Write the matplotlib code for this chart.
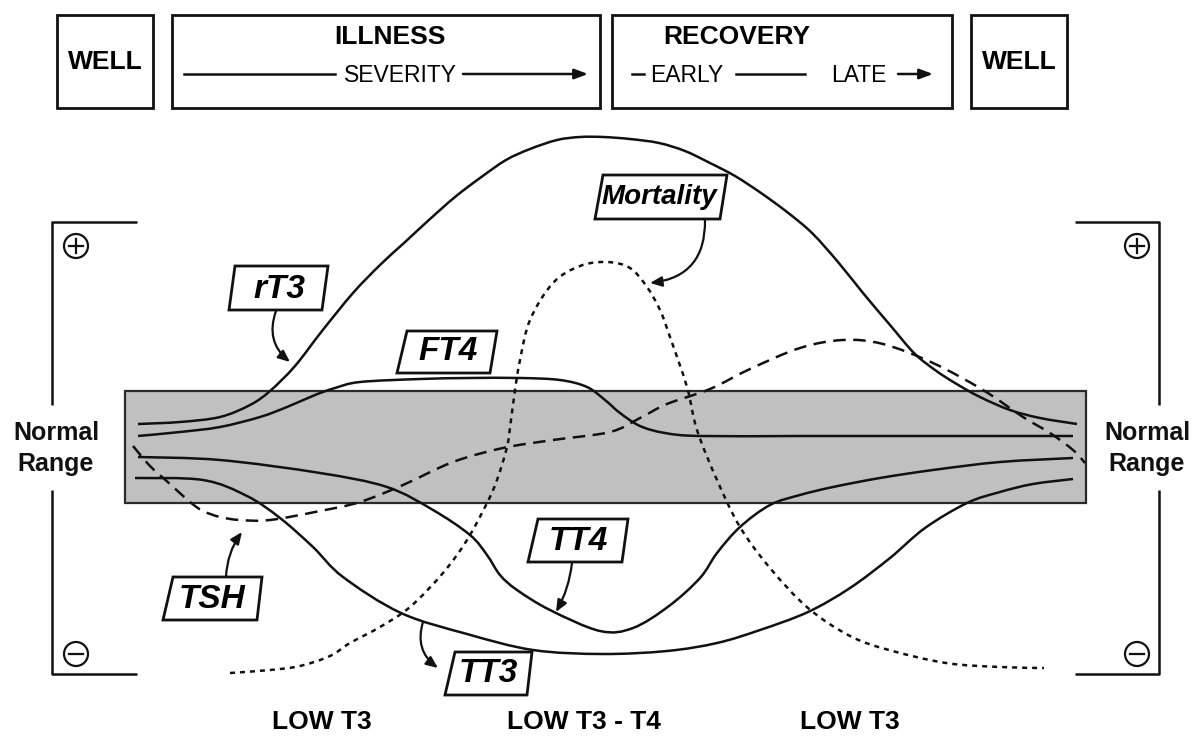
import numpy as np
import matplotlib.pyplot as plt
from matplotlib.path import Path
from matplotlib.patches import PathPatch, Rectangle, Polygon, Circle, FancyArrowPatch

# curve traces (x, y in drawing units, y grows downward)
rt3_x = [138, 180, 220, 250, 270, 295, 322, 353, 380, 404, 430, 455, 480, 506, 530, 557, 580, 603,
         630, 659, 685, 710, 735, 761, 787, 812, 838, 863, 890, 914, 935, 955, 980, 1010, 1040, 1077]
rt3_y = [424, 422, 417, 405, 391, 366, 331, 293, 265, 243, 219, 197, 178, 160, 149, 140, 137, 137,
         139, 143, 151, 163, 176, 193, 212, 233, 262, 293, 325, 353, 370, 383, 397, 410, 418, 424]

ft4_x = [138, 180, 220, 260, 287, 315, 335, 360, 420, 470, 520, 560, 587, 605, 620, 640, 665, 700,
         800, 900, 1000, 1073]
ft4_y = [436, 432, 427, 417, 407, 395, 388, 382, 379, 378, 378, 380, 387, 400, 413, 426, 433, 436,
         436, 436, 436, 436]

tt4_x = [138, 220, 320, 387, 433, 470, 487, 500, 517, 550, 600, 633, 669, 700, 717, 740, 770, 800,
         833, 880, 933, 1000, 1073]
tt4_y = [457, 460, 473, 487, 510, 535, 555, 575, 590, 610, 631, 628, 606, 578, 553, 527, 505, 495,
         487, 478, 470, 462, 458]

tt3_x = [135, 203, 247, 280, 313, 343, 401, 467, 533, 602, 667, 717, 760, 808, 850, 890, 925, 967,
         1000, 1033, 1073]
tt3_y = [478, 480, 496, 518, 547, 577, 613, 634, 650, 654, 651, 643, 630, 612, 588, 558, 528, 503,
         492, 484, 479]

tsh_x = [133, 150, 170, 190, 203, 220, 240, 270, 320, 360, 403, 453, 503, 553, 610, 640, 667, 710,
         750, 800, 843, 883, 933, 983, 1023, 1050, 1073, 1085]
tsh_y = [446, 466, 484, 502, 511, 517, 520, 520, 511, 502, 485, 462, 448, 440, 432, 418, 404, 389,
         369, 348, 340, 344, 363, 390, 417, 433, 450, 463]

mort_x = [230, 270, 300, 330, 350, 380, 410, 443, 467, 487, 497, 507, 511, 515, 520, 530, 553, 580,
          607, 630, 647, 660, 670, 687, 697, 717, 740, 770, 808, 850, 889, 946, 1000, 1044]
mort_y = [673, 670, 666, 656, 643, 627, 607, 573, 540, 503, 480, 447, 420, 390, 360, 320, 283, 266,
          262, 268, 287, 310, 337, 387, 430, 480, 527, 568, 608, 636, 650, 663, 667, 668]

phase_labels = ['LOW T3', 'LOW T3 - T4', 'LOW T3']
hormone_labels = ['rT3', 'FT4', 'Mortality', 'TSH', 'TT4', 'TT3']

INK = '#111111'
SANS = ['Liberation Sans', 'DejaVu Sans']


def smooth_path(xs, ys):
    # Catmull-Rom through the traced points, emitted as cubic Bezier segments
    p = np.column_stack([xs, ys]).astype(float)
    verts = [p[0]]
    codes = [Path.MOVETO]
    n = len(p)
    for i in range(n - 1):
        p0 = p[i - 1] if i > 0 else p[i]
        p1, p2 = p[i], p[i + 1]
        p3 = p[i + 2] if i + 2 < n else p[i + 1]
        verts += [p1 + (p2 - p0) / 6, p2 - (p3 - p1) / 6, p2]
        codes += [Path.CURVE4] * 3
    return Path(verts, codes)


fig = plt.figure(figsize=(11.98, 7.38), dpi=100)
ax = fig.add_axes([0, 0, 1, 1])
ax.set_xlim(0, 1198)
ax.set_ylim(738, 0)
ax.axis('off')

# normal range band
ax.add_patch(Rectangle((125, 391), 961, 112, facecolor='#c0c0c0', edgecolor='#2a2a2a', lw=1.6, zorder=1))

curves = [
    (rt3_x, rt3_y, '-'),
    (ft4_x, ft4_y, '-'),
    (tt4_x, tt4_y, '-'),
    (tt3_x, tt3_y, '-'),
    (tsh_x, tsh_y, (0, (5, 3))),
    (mort_x, mort_y, (0, (2, 2))),
]
for xs, ys, ls in curves:
    ax.add_patch(PathPatch(smooth_path(xs, ys), fill=False, edgecolor=INK, lw=1.8,
                           linestyle=ls, capstyle='butt', zorder=3))

# side brackets with +/- markers
for xv, xh in [(52, 137), (1159, 1075)]:
    ax.plot([xh, xv, xv], [222, 222, 405], color=INK, lw=1.8, solid_capstyle='butt')
    ax.plot([xv, xv, xh], [490, 674, 674], color=INK, lw=1.8, solid_capstyle='butt')
for cx, tx in [(76, 56), (1137, 1147)]:
    for cy, plus in [(246, True), (654, False)]:
        ax.add_patch(Circle((cx, cy), 12, fill=False, edgecolor=INK, lw=1.6))
        ax.plot([cx - 7, cx + 7], [cy, cy], color=INK, lw=1.6)
        if plus:
            ax.plot([cx, cx], [cy - 7, cy + 7], color=INK, lw=1.6)
    ax.text(tx, 433, 'Normal', ha='center', va='center',
            fontsize=18, fontweight='bold', family=SANS, color=INK)
    ax.text(tx, 464, 'Range', ha='center', va='center',
            fontsize=18, fontweight='bold', family=SANS, color=INK)

# header boxes
for x0, x1 in [(57, 153), (172, 600), (612, 952), (971, 1067)]:
    ax.add_patch(Rectangle((x0, 15), x1 - x0, 93, fill=False, edgecolor=INK, lw=2))
ax.text(105, 62, 'WELL', ha='center', va='center', fontsize=19, fontweight='bold', family=SANS)
ax.text(1019, 62, 'WELL', ha='center', va='center', fontsize=19, fontweight='bold', family=SANS)
ax.text(390, 37, 'ILLNESS', ha='center', va='center', fontsize=19, fontweight='bold', family=SANS)
ax.text(737, 37, 'RECOVERY', ha='center', va='center', fontsize=19, fontweight='bold', family=SANS)
ax.text(400, 75, 'SEVERITY', ha='center', va='center', fontsize=16.5, family=SANS)
ax.text(687, 75, 'EARLY', ha='center', va='center', fontsize=16.5, family=SANS)
ax.text(859, 75, 'LATE', ha='center', va='center', fontsize=16.5, family=SANS)
ax.plot([184, 335], [74, 74], color=INK, lw=1.8)
ax.annotate('', xy=(588, 74), xytext=(463, 74),
            arrowprops=dict(arrowstyle='-|>,head_length=0.8,head_width=0.3', color=INK, lw=1.8,
                            shrinkA=0, shrinkB=0))
ax.plot([632, 644], [74, 74], color=INK, lw=1.8)
ax.plot([736, 805], [74, 74], color=INK, lw=1.8)
ax.annotate('', xy=(933, 74), xytext=(898, 74),
            arrowprops=dict(arrowstyle='-|>,head_length=0.8,head_width=0.3', color=INK, lw=1.8,
                            shrinkA=0, shrinkB=0))

# slanted label boxes: (text centre, box left/right at top, left/right at bottom, top, bottom)
boxes = {
    'rT3': ((279, 289), 235, 328, 229, 322, 266, 310, 24),
    'FT4': ((448, 352), 407, 497, 397, 490, 331, 373, 24),
    'Mortality': ((659, 197), 603, 727, 595, 720, 175, 219, 20),
    'TSH': ((212, 599), 173, 262, 163, 257, 577, 620, 24),
    'TT4': ((578, 541), 538, 628, 528, 622, 519, 562, 24),
    'TT3': ((488, 674), 455, 532, 445, 527, 652, 695, 24),
}
for name in hormone_labels:
    (tx, ty), tl, tr, bl, br, yt, yb, fs = boxes[name]
    ax.add_patch(Polygon([(tl, yt), (tr, yt), (br, yb), (bl, yb)], closed=True,
                         facecolor='white', edgecolor=INK, lw=2, zorder=5))
    ax.text(tx, ty, name, ha='center', va='center', fontsize=fs, fontweight='bold',
            fontstyle='italic', family=SANS, zorder=6)

# pointers from labels to curves
pointers = [
    ((276, 311), (290, 362), 0.35),
    ((705, 220), (650, 283), -0.45),
    ((226, 577), (242, 532), -0.15),
    ((572, 563), (556, 612), -0.1),
    ((423, 622), (438, 668), 0.35),
]
for start, end, rad in pointers:
    ax.add_patch(FancyArrowPatch(start, end, connectionstyle=f'arc3,rad={rad}',
                                 arrowstyle='-|>,head_length=7,head_width=3', color=INK, lw=1.6,
                                 shrinkA=0, shrinkB=0, zorder=4))

# phase labels along the bottom
for cx, lab in zip([322, 584, 850], phase_labels):
    ax.text(cx, 722, lab, ha='center', va='center', fontsize=19, fontweight='bold', family=SANS)

fig.savefig('out.png', dpi=100, facecolor='white')
